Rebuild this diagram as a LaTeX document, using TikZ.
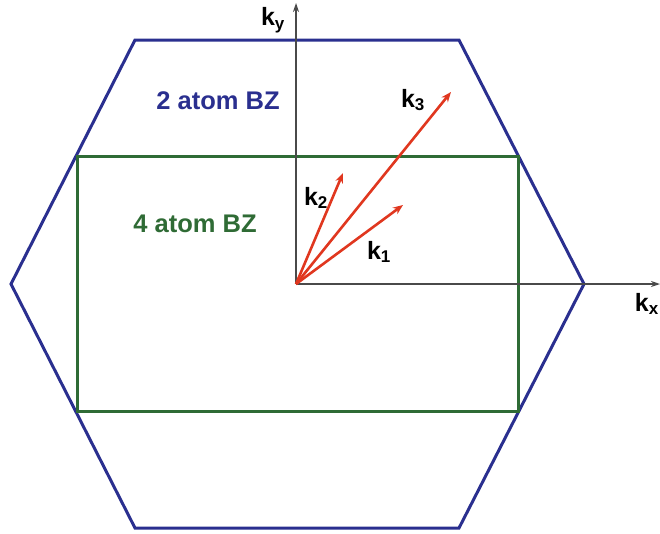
\documentclass[tikz,border=0pt]{standalone}
\usepackage{fontspec}
\setmainfont{Liberation Sans}
\usetikzlibrary{arrows.meta}
\definecolor{hexblue}{HTML}{2A2F8F}
\definecolor{rectgreen}{HTML}{2F6B35}
\definecolor{vecred}{HTML}{E0371F}
\definecolor{axisgray}{HTML}{4A4A4A}
\begin{document}
\begin{tikzpicture}[x=1pt,y=-1pt,
  hexline/.style={draw=hexblue,line width=3pt,line join=miter},
  rectline/.style={draw=rectgreen,line width=3pt},
  axisline/.style={draw=axisgray,line width=1.3pt,-{Stealth[length=9pt,width=6pt]}},
  vecline/.style={draw=vecred,line width=2.6pt,-{Stealth[length=10pt,width=8pt]}},
  lbl/.style={font=\bfseries\fontsize{25}{27}\selectfont,inner sep=0pt},
  bzlbl/.style={font=\bfseries\fontsize{25.5}{27}\selectfont,inner sep=0pt}]
\useasboundingbox (0,0) rectangle (660,533);
% Hexagon (2 atom BZ)
\coordinate (h1) at (11,284);
\coordinate (h2) at (135,40);
\coordinate (h3) at (459,40);
\coordinate (h4) at (584,284);
\coordinate (h5) at (459,528);
\coordinate (h6) at (135,528);
\draw[hexline] (h1) -- (h2) -- (h3) -- (h4) -- (h5) -- (h6) -- cycle;
% Rectangle (4 atom BZ)
\coordinate (r1) at (77,156);
\coordinate (r2) at (518,411);
\draw[rectline] (r1) rectangle (r2);
% Axes
\coordinate (O) at (296,284);
\coordinate (kyend) at (296,3);
\coordinate (kxend) at (660,284);
\draw[axisline] (O) -- (kyend);
\draw[axisline] (O) -- (kxend);
% Vectors
\coordinate (k1end) at (403,205);
\coordinate (k2end) at (343,173);
\coordinate (k3end) at (451,92);
\draw[vecline] (O) -- (k1end);
\draw[vecline] (O) -- (k2end);
\draw[vecline] (O) -- (k3end);
% Labels
\node[lbl] (ky) at (273,20) {k\textsubscript{\fontsize{17}{18}\selectfont y}};
\node[lbl,anchor=east] (kx) at (659,304) {k\textsubscript{\fontsize{17}{18}\selectfont x}};
\node[lbl] (k3) at (413,100) {k\textsubscript{\fontsize{17}{18}\selectfont 3}};
\node[lbl] (k2) at (316,198) {k\textsubscript{\fontsize{17}{18}\selectfont 2}};
\node[lbl] (k1) at (379,252) {k\textsubscript{\fontsize{17}{18}\selectfont 1}};
\node[bzlbl,text=hexblue] (bz2) at (218,101) {2 atom BZ};
\node[bzlbl,text=rectgreen] (bz4) at (195,224) {4 atom BZ};
\end{tikzpicture}
\end{document}
